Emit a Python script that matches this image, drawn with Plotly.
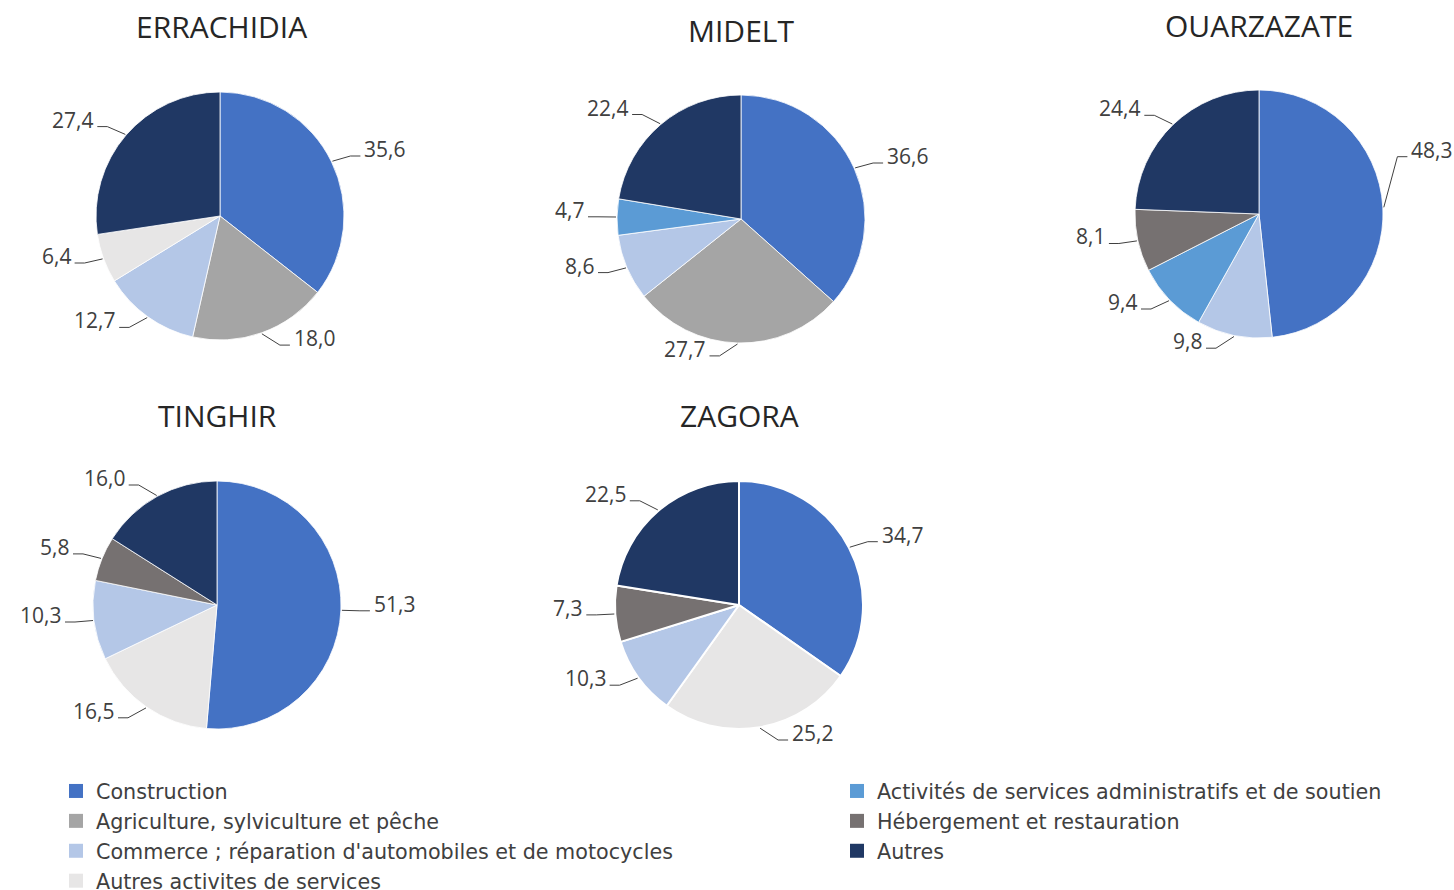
import math
import plotly.graph_objects as go

W, H = 1454, 890

# ---- categories / colours ----
CONSTRUCTION = "Construction"
AGRI = "Agriculture, sylviculture et pêche"
COMMERCE = "Commerce ; réparation d'automobiles et de motocycles"
AUTRES_ACT = "Autres activites de services"
ADMIN = "Activités de services administratifs et de soutien"
HEBERG = "Hébergement et restauration"
AUTRES = "Autres"

category_colors = {
    CONSTRUCTION: "#4472C4",
    AGRI: "#A5A5A5",
    COMMERCE: "#B4C7E7",
    AUTRES_ACT: "#E7E6E6",
    ADMIN: "#5B9BD5",
    HEBERG: "#767171",
    AUTRES: "#203864",
}

legend_left = [CONSTRUCTION, AGRI, COMMERCE, AUTRES_ACT]
legend_right = [ADMIN, HEBERG, AUTRES]

# ---- data (per province, clockwise from 12 o'clock) ----
provinces = ["ERRACHIDIA", "MIDELT", "OUARZAZATE", "TINGHIR", "ZAGORA"]

errachidia_labels = [CONSTRUCTION, AGRI, COMMERCE, AUTRES_ACT, AUTRES]
errachidia_values = [35.6, 18.0, 12.7, 6.4, 27.4]

midelt_labels = [CONSTRUCTION, AGRI, COMMERCE, ADMIN, AUTRES]
midelt_values = [36.6, 27.7, 8.6, 4.7, 22.4]

ouarzazate_labels = [CONSTRUCTION, COMMERCE, ADMIN, HEBERG, AUTRES]
ouarzazate_values = [48.3, 9.8, 9.4, 8.1, 24.4]

tinghir_labels = [CONSTRUCTION, AUTRES_ACT, COMMERCE, HEBERG, AUTRES]
tinghir_values = [51.3, 16.5, 10.3, 5.8, 16.0]

zagora_labels = [CONSTRUCTION, AUTRES_ACT, COMMERCE, HEBERG, AUTRES]
zagora_values = [34.7, 25.2, 10.3, 7.3, 22.5]

data = {
    "ERRACHIDIA": (errachidia_labels, errachidia_values),
    "MIDELT": (midelt_labels, midelt_values),
    "OUARZAZATE": (ouarzazate_labels, ouarzazate_values),
    "TINGHIR": (tinghir_labels, tinghir_values),
    "ZAGORA": (zagora_labels, zagora_values),
}

# ---- layout (pixels) ----
R = 124
centers = {
    "ERRACHIDIA": (220, 216),
    "MIDELT": (741, 219),
    "OUARZAZATE": (1259, 214),
    "TINGHIR": (217, 605),
    "ZAGORA": (739, 605),
}
title_pos = {
    "ERRACHIDIA": (221, 26),
    "MIDELT": (741, 30),
    "OUARZAZATE": (1259, 25),
    "TINGHIR": (217, 415),
    "ZAGORA": (739, 415),
}
FONT = "Open Sans"
TEXT_COLOR = "#404040"
LABEL_SIZE = 21

fig = go.Figure()
shapes = []
annotations = []

for p in provinces:
    labels, values = data[p]
    cx, cy = centers[p]
    fig.add_trace(go.Pie(
        labels=labels,
        values=values,
        sort=False,
        direction="clockwise",
        rotation=0,
        textinfo="none",
        hoverinfo="label+value",
        showlegend=False,
        marker=dict(colors=[category_colors[l] for l in labels],
                    line=dict(color="white", width=2 if p == "ZAGORA" else 0.8)),
        domain=dict(x=[(cx - R) / W, (cx + R) / W],
                    y=[1 - (cy + R) / H, 1 - (cy - R) / H]),
        name=p,
    ))
    # leader lines + value labels computed from the data
    total = sum(values)
    cum = 0.0
    for v in values:
        mid = (cum + v / 2) / total * 2 * math.pi
        cum += v
        txt = f"{v:.1f}".replace(".", ",")
        sx, sy = math.sin(mid), -math.cos(mid)
        side = 1 if sx >= 0 else -1
        x0, y0 = cx + (R + 1) * sx, cy + (R + 1) * sy
        x1, y1 = x0 + side * 18, y0 + 12 * sy
        hseg = 10
        est_w = LABEL_SIZE * (0.57 * (len(txt) - 1) + 0.27)
        if side > 0:
            overflow = x1 + hseg + 2 + est_w - (W - 3)
        else:
            overflow = 3 - (x1 - hseg - 2 - est_w)
        if overflow > 0:
            # not enough room beside the slice: lift the label upward
            x1 -= side * overflow
            y1 -= 50
        x2, y2 = x1 + side * hseg, y1
        shapes.append(dict(type="path", xref="x", yref="y",
                           path=f"M {x0:.1f},{y0:.1f} L {x1:.1f},{y1:.1f} L {x2:.1f},{y2:.1f}",
                           line=dict(color="#404040", width=1)))
        annotations.append(dict(
            x=x2 + side * 2, y=y2 - 7, xref="x", yref="y",
            text=txt, showarrow=False,
            xanchor="left" if side > 0 else "right", yanchor="middle",
            font=dict(family=FONT, size=LABEL_SIZE, color=TEXT_COLOR),
        ))
    tx, ty = title_pos[p]
    annotations.append(dict(
        x=tx, y=ty, xref="x", yref="y", text=p, showarrow=False,
        xanchor="center", yanchor="middle",
        font=dict(family=FONT, size=30, color="#262626"),
    ))

# legend entries
for name in legend_left + legend_right:
    fig.add_trace(go.Scatter(
        x=[None], y=[None], mode="markers", name=name,
        marker=dict(symbol="square", size=14, color=category_colors[name]),
        legend="legend" if name in legend_left else "legend2",
        hoverinfo="skip",
    ))

legend_common = dict(
    xanchor="left", yanchor="top", orientation="v",
    font=dict(family="DejaVu Sans", size=20.7, color=TEXT_COLOR),
    bgcolor="rgba(0,0,0,0)", borderwidth=0, tracegroupgap=0,
)

fig.update_layout(
    width=W, height=H,
    margin=dict(l=0, r=0, t=0, b=0, autoexpand=False),
    paper_bgcolor="white", plot_bgcolor="white",
    xaxis=dict(range=[0, W], visible=False, fixedrange=True, domain=[0, 1]),
    yaxis=dict(range=[H, 0], visible=False, fixedrange=True, domain=[0, 1]),
    shapes=shapes,
    annotations=annotations,
    legend=dict(x=56 / W, y=1 - 771 / H, **legend_common),
    legend2=dict(x=837 / W, y=1 - 771 / H, **legend_common),
    showlegend=True,
)

fig.write_html("out.html", config={"displayModeBar": False},
               post_script="document.body.style.margin='0px';document.body.style.overflow='hidden';")
